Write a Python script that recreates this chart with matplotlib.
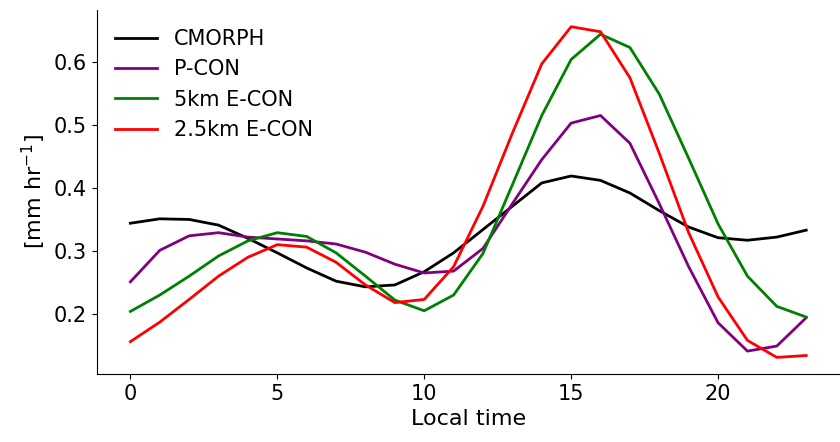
import matplotlib
matplotlib.use("Agg")
import matplotlib.pyplot as plt
import numpy as np

hours = list(range(24))
cmorph = [0.344, 0.351, 0.350, 0.341, 0.320, 0.297, 0.273, 0.252, 0.243, 0.246, 0.267, 0.297,
          0.334, 0.371, 0.408, 0.419, 0.412, 0.392, 0.364, 0.338, 0.321, 0.317, 0.322, 0.333]
pcon = [0.251, 0.301, 0.324, 0.329, 0.322, 0.319, 0.316, 0.311, 0.298, 0.279, 0.265, 0.268,
        0.304, 0.375, 0.445, 0.503, 0.515, 0.471, 0.375, 0.275, 0.186, 0.141, 0.149, 0.194]
econ5 = [0.204, 0.230, 0.260, 0.292, 0.316, 0.329, 0.323, 0.297, 0.260, 0.222, 0.205, 0.230,
         0.296, 0.405, 0.515, 0.604, 0.644, 0.623, 0.549, 0.447, 0.343, 0.260, 0.212, 0.195]
econ25 = [0.156, 0.187, 0.223, 0.260, 0.290, 0.310, 0.306, 0.282, 0.246, 0.218, 0.223, 0.275,
          0.371, 0.487, 0.597, 0.656, 0.648, 0.575, 0.455, 0.329, 0.227, 0.158, 0.131, 0.134]

labels = ["CMORPH", "P-CON", "5km E-CON", "2.5km E-CON"]
colors = ["black", "purple", "green", "red"]

fs = 15
fig = plt.figure(figsize=(8.4, 4.42), dpi=100)
ax = fig.add_axes([0.115, 0.154, 0.885, 0.823])
for s, lab, c in zip([cmorph, pcon, econ5, econ25], labels, colors):
    ax.plot(hours, s, color=c, lw=2, label=lab)

ax.set_xticks([0, 5, 10, 15, 20])
ax.set_yticks([0.2, 0.3, 0.4, 0.5, 0.6])
ax.tick_params(labelsize=fs)
ax.set_xlabel("Local time", fontsize=16)
ax.set_ylabel("[mm hr$^{-1}$]", fontsize=16)
ax.spines["top"].set_visible(False)
ax.spines["right"].set_visible(False)
ax.legend(loc="upper left", frameon=False, fontsize=fs)

fig.savefig("out.png", dpi=100)
